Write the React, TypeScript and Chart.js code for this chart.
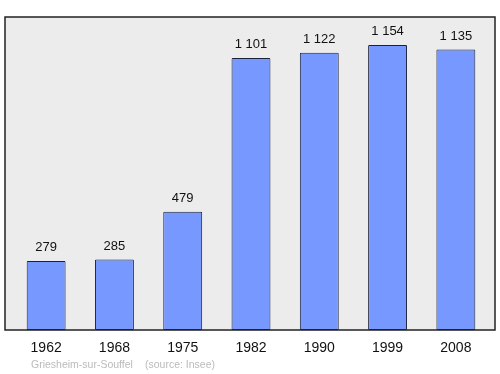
import React, { useEffect, useRef } from "react";
import { Chart, registerables } from "chart.js";

Chart.register(...registerables);

const years = ["1962", "1968", "1975", "1982", "1990", "1999", "2008"];
const population = [279, 285, 479, 1101, 1122, 1154, 1135];
const footerPlace = "Griesheim-sur-Souffel";
const footerSource = "(source: Insee)";

const fmt = (v: number) => String(v).replace(/\B(?=(\d{3})+(?!\d))/g, " ");

const framePlugin = {
  id: "frame",
  beforeDraw(chart: any) {
    const { ctx, chartArea } = chart;
    const l = chartArea.left - 7;
    const r = chartArea.right + 5;
    const t = chartArea.top;
    const b = chartArea.bottom;
    ctx.save();
    ctx.fillStyle = "#ececec";
    ctx.strokeStyle = "#222222";
    ctx.lineWidth = 1.5;
    ctx.beginPath();
    ctx.rect(l, t, r - l, b - t);
    ctx.fill();
    ctx.stroke();
    ctx.restore();
  },
  afterDatasetsDraw(chart: any) {
    const { ctx, chartArea } = chart;
    const meta = chart.getDatasetMeta(0);
    const xs = chart.scales.x;
    ctx.save();
    ctx.fillStyle = "#111111";
    ctx.font = "13px 'Liberation Sans', Arial, sans-serif";
    ctx.textAlign = "center";
    ctx.textBaseline = "alphabetic";
    meta.data.forEach((bar: any, i: number) => {
      ctx.fillText(fmt(population[i]), bar.x, bar.y - 10);
    });
    ctx.font = "14px 'Liberation Sans', Arial, sans-serif";
    ctx.textBaseline = "middle";
    years.forEach((y, i) => {
      ctx.fillText(y, xs.getPixelForTick(i), chartArea.bottom + 18);
    });
    ctx.font = "10.5px 'Liberation Sans', Arial, sans-serif";
    ctx.fillStyle = "#bbbbbb";
    ctx.textAlign = "left";
    ctx.fillText(footerPlace, 31, chartArea.bottom + 35);
    ctx.fillText(footerSource, 145, chartArea.bottom + 35);
    ctx.restore();
  },
};

export default function App() {
  const ref = useRef<HTMLCanvasElement>(null);
  useEffect(() => {
    document.body.style.margin = "0";
    const chart = new Chart(ref.current!, {
      type: "bar",
      data: {
        labels: years,
        datasets: [
          {
            data: population,
            backgroundColor: "#7799ff",
            borderColor: "#1a1f3a",
            borderWidth: 1,
            borderSkipped: false,
            borderRadius: 1,
            barPercentage: 0.57,
            categoryPercentage: 1,
          },
        ],
      },
      options: {
        animation: false,
        responsive: false,
        maintainAspectRatio: false,
        layout: { padding: { left: 12, right: 10, top: 17, bottom: 44 } },
        plugins: { legend: { display: false }, tooltip: { enabled: false } },
        scales: {
          x: { display: false },
          y: { display: false, min: 0, max: 1267 },
        },
      },
      plugins: [framePlugin],
    });
    return () => chart.destroy();
  }, []);
  return <canvas ref={ref} width={500} height={374} style={{ display: "block" }} />;
}
